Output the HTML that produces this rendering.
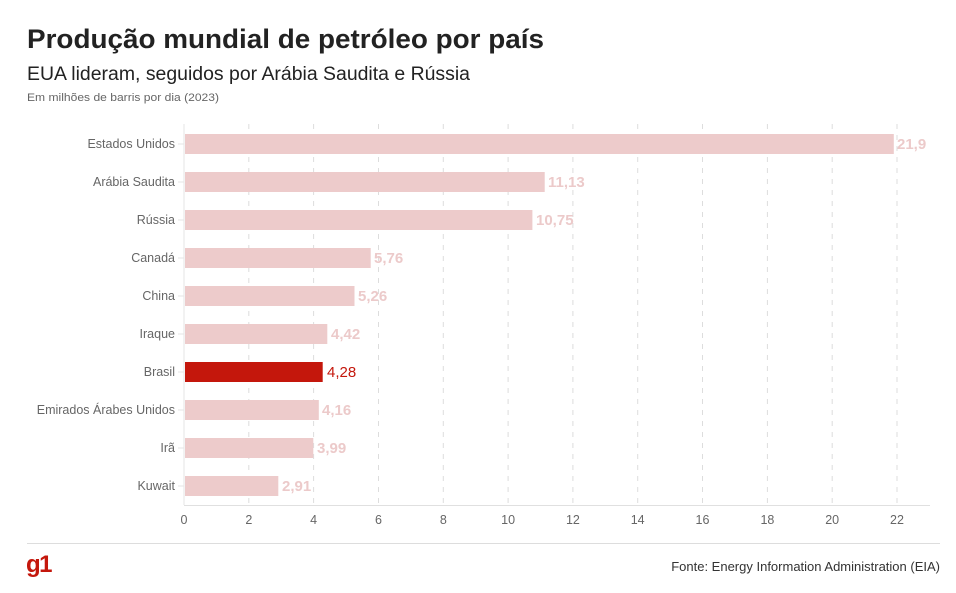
<!DOCTYPE html>
<html><head><meta charset="utf-8"><style>
body{margin:0;background:#fff;}
svg text{font-family:"Liberation Sans",sans-serif;}
</style></head><body>
<svg width="956" height="588" viewBox="0 0 956 588" xmlns="http://www.w3.org/2000/svg">
<text x="27" y="48" font-size="27" font-weight="bold" fill="#222" textLength="517" lengthAdjust="spacingAndGlyphs">Produção mundial de petróleo por país</text>
<text x="27" y="80" font-size="19" fill="#222" textLength="443" lengthAdjust="spacingAndGlyphs">EUA lideram, seguidos por Arábia Saudita e Rússia</text>
<text x="27" y="101" font-size="11" fill="#666" textLength="192" lengthAdjust="spacingAndGlyphs">Em milhões de barris por dia (2023)</text>
<g stroke="#ddd" stroke-width="1" stroke-dasharray="5,6">
<line x1="248.8" y1="124" x2="248.8" y2="505"/><line x1="313.6" y1="124" x2="313.6" y2="505"/><line x1="378.5" y1="124" x2="378.5" y2="505"/><line x1="443.3" y1="124" x2="443.3" y2="505"/><line x1="508.1" y1="124" x2="508.1" y2="505"/><line x1="572.9" y1="124" x2="572.9" y2="505"/><line x1="637.7" y1="124" x2="637.7" y2="505"/><line x1="702.5" y1="124" x2="702.5" y2="505"/><line x1="767.4" y1="124" x2="767.4" y2="505"/><line x1="832.2" y1="124" x2="832.2" y2="505"/><line x1="897" y1="124" x2="897" y2="505"/>
</g>
<line x1="184" y1="124" x2="184" y2="505" stroke="#e6e6e6"/>
<line x1="184" y1="505.5" x2="930" y2="505.5" stroke="#e0e0e0"/>
<g fill="#edcbcb">
<rect x="185" y="134" width="708.8" height="20"/>
<rect x="185" y="172" width="359.7" height="20"/>
<rect x="185" y="210" width="347.4" height="20"/>
<rect x="185" y="248" width="185.7" height="20"/>
<rect x="185" y="286" width="169.5" height="20"/>
<rect x="185" y="324" width="142.3" height="20"/>
<rect x="185" y="400" width="133.8" height="20"/>
<rect x="185" y="438" width="128.3" height="20"/>
<rect x="185" y="476" width="93.3" height="20"/>
</g>
<rect x="185" y="362" width="137.7" height="20" fill="#c4170c"/>
<g fill="#eccaca" font-size="15" font-weight="bold">
<text x="897" y="149">21,9</text>
<text x="548" y="187">11,13</text>
<text x="536" y="225">10,75</text>
<text x="374" y="263">5,76</text>
<text x="358" y="301">5,26</text>
<text x="331" y="339">4,42</text>
<text x="322" y="415">4,16</text>
<text x="317" y="453">3,99</text>
<text x="282" y="491">2,91</text>
</g>
<text x="327" y="377" font-size="15" fill="#c4170c">4,28</text>
<g font-size="12.5" fill="#666" text-anchor="end">
<text x="175" y="148">Estados Unidos</text>
<text x="175" y="186">Arábia Saudita</text>
<text x="175" y="224">Rússia</text>
<text x="175" y="262">Canadá</text>
<text x="175" y="300">China</text>
<text x="175" y="338">Iraque</text>
<text x="175" y="376">Brasil</text>
<text x="175" y="414">Emirados Árabes Unidos</text>
<text x="175" y="452">Irã</text>
<text x="175" y="490">Kuwait</text>
</g>
<g stroke="#e6e6e6"><line x1="178" y1="144" x2="184" y2="144"/><line x1="178" y1="182" x2="184" y2="182"/><line x1="178" y1="220" x2="184" y2="220"/><line x1="178" y1="258" x2="184" y2="258"/><line x1="178" y1="296" x2="184" y2="296"/><line x1="178" y1="334" x2="184" y2="334"/><line x1="178" y1="372" x2="184" y2="372"/><line x1="178" y1="410" x2="184" y2="410"/><line x1="178" y1="448" x2="184" y2="448"/><line x1="178" y1="486" x2="184" y2="486"/></g>
<g font-size="12.5" fill="#666" text-anchor="middle">
<text x="184" y="524">0</text><text x="248.8" y="524">2</text><text x="313.6" y="524">4</text><text x="378.5" y="524">6</text><text x="443.3" y="524">8</text><text x="508.1" y="524">10</text><text x="572.9" y="524">12</text><text x="637.7" y="524">14</text><text x="702.5" y="524">16</text><text x="767.4" y="524">18</text><text x="832.2" y="524">20</text><text x="897" y="524">22</text>
</g>
<line x1="27" y1="543.5" x2="940" y2="543.5" stroke="#ddd"/>
<text x="26" y="572" font-size="24" font-weight="bold" fill="#c4170c" letter-spacing="-1.5">g1</text>
<text x="940" y="571" font-size="13" fill="#333" text-anchor="end">Fonte: Energy Information Administration (EIA)</text>
</svg>
</body></html>
